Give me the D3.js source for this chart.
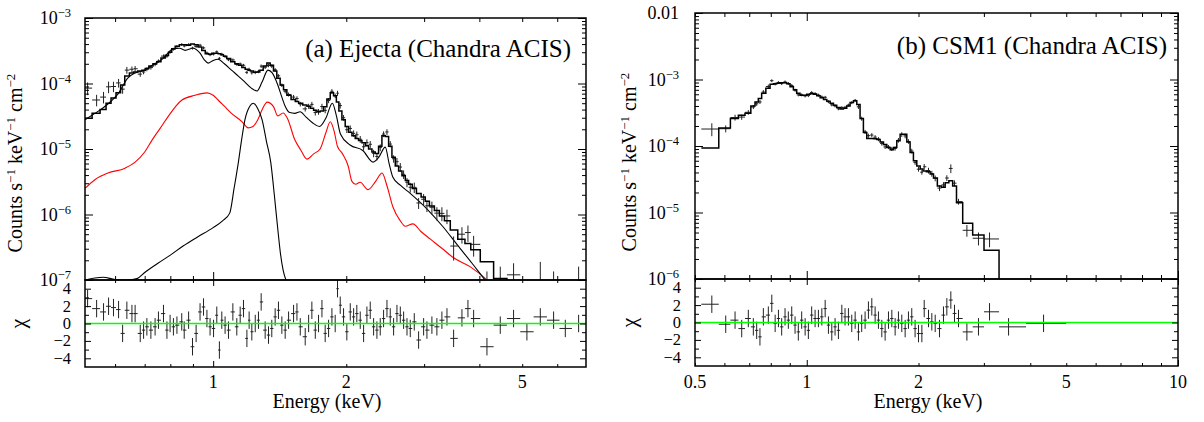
<!DOCTYPE html>
<html><head><meta charset="utf-8">
<script src="https://cdn.jsdelivr.net/npm/d3@7"></script>
<style>
body{margin:0;background:#fff}
svg{display:block}
svg text, svg tspan{font-family:'Liberation Serif','DejaVu Serif','Times New Roman',serif}
</style>
</head><body>
<svg id="c" width="1204" height="422" font-family="Liberation Serif, DejaVu Serif, serif"></svg>
<script>
// ---------------- Panel (a): Ejecta ----------------
const aEnergy = [0.520,0.545,0.565,0.580,0.595,0.611,0.624,0.638,0.655,0.666,
0.684,0.696,0.708,0.723,0.739,0.752,0.772,0.786,0.799,0.813,
0.828,0.849,0.860,0.880,0.898,0.915,0.934,0.951,0.968,0.984,
1.002,1.019,1.033,1.046,1.064,1.083,1.108,1.131,1.151,1.171,
1.192,1.206,1.223,1.245,1.266,1.284,1.311,1.334,1.357,1.381,
1.405,1.430,1.455,1.481,1.520,1.547,1.574,1.615,1.644,1.672,
1.702,1.731,1.762,1.792,1.824,1.856,1.888,1.911,1.938,1.972,
2.006,2.042,2.078,2.113,2.151,2.189,2.227,2.266,2.306,2.346,
2.387,2.429,2.472,2.515,2.559,2.604,2.650,2.696,2.744,2.791,
2.850,2.915,2.992,3.044,3.124,3.206,3.291,3.379,3.498,3.653,
3.769,3.882,4.161,4.460,4.780,5.124,5.494,5.888,6.258,6.707];
const aEdgeLo = 0.513, aEdgeHi = 6.97;
const aModel = [2.95e-5,3.5e-5,4.0e-5,5.0e-5,6.0e-5,7.2e-5,9.5e-5,1.3e-4,1.45e-4,1.5e-4,
1.55e-4,1.6e-4,1.7e-4,1.85e-4,2.0e-4,2.15e-4,2.45e-4,2.7e-4,3.0e-4,3.4e-4,
3.7e-4,3.9e-4,3.9e-4,3.85e-4,4.0e-4,3.9e-4,3.6e-4,3.2e-4,2.85e-4,2.8e-4,
2.9e-4,2.9e-4,2.85e-4,2.75e-4,2.6e-4,2.4e-4,2.15e-4,2.0e-4,1.9e-4,1.75e-4,
1.65e-4,1.6e-4,1.55e-4,1.48e-4,1.5e-4,1.6e-4,1.85e-4,2.05e-4,1.9e-4,1.55e-4,
1.2e-4,9.5e-5,8.0e-5,6.6e-5,5.7e-5,5.3e-5,5.0e-5,4.7e-5,4.5e-5,4.2e-5,
3.9e-5,3.7e-5,3.8e-5,4.4e-5,5.8e-5,7.2e-5,6.5e-5,5.2e-5,3.8e-5,2.8e-5,
2.2e-5,1.8e-5,1.6e-5,1.45e-5,1.35e-5,1.25e-5,1.12e-5,1.0e-5,9.0e-6,8.5e-6,
1.1e-5,1.6e-5,1.55e-5,1.1e-5,7.5e-6,5.5e-6,4.6e-6,3.9e-6,3.3e-6,2.9e-6,
2.5e-6,2.1e-6,1.85e-6,1.6e-6,1.35e-6,1.15e-6,9.5e-7,8.0e-7,5.8e-7,4.2e-7,
3.6e-7,2.9e-7,1.9e-7,1.05e-7,6e-8,4e-8,3e-8,2e-8,1.5e-8,1e-8];
const aData = [8.5e-5,5.6e-5,6.2e-5,8.9e-5,9.0e-5,1.02e-4,8.2e-5,1.6e-4,1.65e-4,1.68e-4,
1.39e-4,1.5e-4,1.65e-4,1.75e-4,1.95e-4,2.2e-4,2.62e-4,2.6e-4,3.0e-4,3.34e-4,
3.66e-4,3.94e-4,3.75e-4,3.92e-4,3.47e-4,3.68e-4,3.84e-4,3.5e-4,2.93e-4,2.75e-4,
2.82e-4,3.04e-4,2.42e-4,2.8e-4,2.58e-4,2.31e-4,2.29e-4,1.96e-4,1.99e-4,1.9e-4,
1.48e-4,1.64e-4,1.46e-4,1.48e-4,1.53e-4,1.84e-4,1.77e-4,1.89e-4,1.84e-4,1.62e-4,
1.31e-4,9.4e-5,7.6e-5,6.8e-5,6.2e-5,5.9e-5,4.85e-5,4.1e-5,4.5e-5,4.8e-5,
3.6e-5,3.7e-5,4.45e-5,3.9e-5,5.5e-5,7.6e-5,6.5e-5,7.1e-5,4.6e-5,3.0e-5,
1.97e-5,2.06e-5,1.73e-5,1.65e-5,1.41e-5,1.08e-5,1.25e-5,1.18e-5,8.6e-6,7.7e-6,
1.05e-5,1.69e-5,1.82e-5,1.19e-5,7.1e-6,6.4e-6,5.3e-6,4.1e-6,3.1e-6,2.6e-6,
2.6e-6,1.5e-6,1.71e-6,1.36e-6,1.29e-6,1.05e-6,1.04e-6,9.5e-7,3.3e-7,5.0e-7,
5.3e-7,3.5e-7,3e-8,5e-8,1.2e-7,2e-8,3e-8,3e-8,1e-8,2e-8];
const aRelErr = [.22,.2,.2,.2,.18,.15,.15,.12,.1,.1,
.09,.08,.07,.07,.06,.06,.06,.05,.05,.05,
.05,.05,.05,.05,.05,.05,.05,.05,.05,.05,
.05,.05,.05,.05,.05,.05,.05,.05,.05,.05,
.06,.06,.06,.06,.06,.06,.06,.06,.06,.06,
.06,.06,.07,.07,.08,.08,.08,.09,.09,.09,
.1,.1,.1,.1,.09,.08,.08,.09,.1,.1,
.11,.11,.11,.12,.12,.12,.12,.12,.13,.13,
.12,.1,.1,.11,.13,.14,.15,.15,.16,.17,
.18,.19,.2,.2,.22,.23,.24,.25,.4,.28,
.28,.35,3.5,2.2,.5,3,5.3,3.5,5,7];
const aChi = [2.86,1.71,1.33,1.98,1.83,1.6,-1.14,1.52,1.14,1.14,
-1.14,-0.76,-0.38,-0.76,-0.38,0.38,1.14,-0.76,0,-0.38,
-0.19,0.19,-0.76,0.38,-2.67,-1.14,1.33,1.9,0.57,-0.38,
-0.57,0.95,-3.05,0.38,-0.19,-0.76,1.33,-0.38,0.95,1.71,
-1.71,0.38,-0.95,0,0.38,2.48,-0.76,-1.33,-0.57,0.76,
1.52,-0.19,-0.76,0.38,1.14,1.33,-0.38,-1.52,0,1.52,
-0.76,0,1.71,-1.14,-0.57,0.76,0,4.0,2.1,0.76,
-0.95,1.33,0.76,1.14,0.38,-1.14,0.95,1.52,-0.38,-0.76,
-0.38,0.57,1.71,0.76,-0.38,1.14,0.95,0.38,-0.38,-0.57,
0.19,-1.9,-0.38,-0.76,-0.19,-0.38,0.38,0.76,-1.71,0.65,
1.71,0.57,-2.67,-0.19,0.57,-0.95,0.76,0.38,-0.57,0];

// model components of panel (a)
const aCompBlackE = [0.513,0.54,0.565,0.59,0.61,0.64,0.666,0.70,0.728,0.77,0.812,0.84,0.864,0.90,0.934,0.955,0.974,1.0,1.026,1.06,1.10,1.14,1.18,1.22,1.257,1.29,1.33,1.36,1.40,1.43,1.455,1.49,1.53,1.573,1.62,1.68,1.74,1.80,1.86,1.90,1.94,2.04,2.18,2.30,2.37,2.45,2.50,2.55,2.65,2.79,3.05,3.31,3.57,3.85,4.12,4.3];
const aCompBlackV = [2.8e-5,3.5e-5,4.3e-5,5.5e-5,7.0e-5,1.2e-4,1.45e-4,1.6e-4,1.9e-4,2.4e-4,3.4e-4,3.45e-4,3.2e-4,3.45e-4,2.9e-4,2.3e-4,2.05e-4,2.25e-4,2.35e-4,2.0e-4,1.6e-4,1.3e-4,1.05e-4,8.5e-5,7.7e-5,1.05e-4,1.6e-4,1.45e-4,9.5e-5,6.2e-5,4.5e-5,3.6e-5,3.5e-5,3.7e-5,3.1e-5,2.5e-5,2.2e-5,3.0e-5,5.0e-5,3.2e-5,1.7e-5,1.15e-5,9.5e-6,6.3e-6,7.5e-6,1.07e-5,6e-6,3.7e-6,2.8e-6,2.1e-6,1.2e-6,6.5e-7,3.4e-7,1.8e-7,1e-7,7e-8];
const aCompRedE = [0.513,0.54,0.578,0.632,0.666,0.70,0.728,0.76,0.79,0.85,0.91,0.969,1.0,1.026,1.06,1.10,1.163,1.2,1.23,1.26,1.295,1.325,1.37,1.40,1.44,1.47,1.53,1.58,1.63,1.69,1.745,1.80,1.84,1.88,1.91,1.96,2.02,2.06,2.10,2.15,2.24,2.33,2.41,2.47,2.55,2.65,2.72,2.83,2.95,3.10,3.30,3.49,3.81,4.16,4.3];
const aCompRedV = [2.5e-6,3.4e-6,4.3e-6,5.1e-6,6.3e-6,9e-6,1.38e-5,2.1e-5,3.1e-5,5.6e-5,6.6e-5,7.2e-5,6.6e-5,5.6e-5,4.5e-5,3.5e-5,2.6e-5,2.1e-5,2.2e-5,2.75e-5,4.2e-5,5.2e-5,4.4e-5,3.2e-5,3.55e-5,3.0e-5,1.38e-5,9.5e-6,7.0e-6,8.5e-6,1.0e-5,1.8e-5,2.6e-5,1.8e-5,1.1e-5,8.5e-6,5.5e-6,3.2e-6,2.9e-6,3.1e-6,2.4e-6,3.2e-6,4.3e-6,2.8e-6,1.3e-6,8e-7,6.6e-7,7.2e-7,5.5e-7,4.2e-7,3e-7,2.2e-7,1.6e-7,1e-7,8e-8];
const aCompLineE = [0.513,0.54,0.564,0.60,0.64,0.673,0.70,0.75,0.80,0.855,0.92,1.0,1.05,1.09,1.115,1.14,1.16,1.18,1.21,1.232,1.26,1.29,1.32,1.35,1.375,1.40,1.42,1.44,1.47];
const aCompLineV = [1.0e-7,1.07e-7,1.1e-7,1.02e-7,1.0e-7,1.05e-7,1.3e-7,1.8e-7,2.4e-7,3.3e-7,4.5e-7,6.3e-7,8e-7,1.05e-6,2.5e-6,6.2e-6,1.4e-5,2.8e-5,4.5e-5,5e-5,4.2e-5,2.8e-5,1.3e-5,6.2e-6,2e-6,6e-7,2.5e-7,1.4e-7,9e-8];

// ---------------- Panel (b): CSM1 ----------------
const bEnergy = [0.555,0.605,0.641,0.668,0.696,0.718,0.733,0.748,0.764,0.788,
0.805,0.822,0.839,0.856,0.874,0.892,0.911,0.930,0.949,0.969,
0.990,1.010,1.031,1.053,1.075,1.098,1.121,1.144,1.168,1.192,
1.217,1.243,1.268,1.295,1.322,1.350,1.378,1.406,1.436,1.466,
1.497,1.528,1.560,1.593,1.626,1.660,1.695,1.730,1.766,1.803,
1.841,1.879,1.918,1.958,2.000,2.042,2.072,2.128,2.172,2.218,
2.278,2.335,2.384,2.444,2.500,2.563,2.700,2.901,3.107,3.496,4.344];
const bEdgeLo = 0.52, bEdgeHi = 5.0;
const bModel = [9.3e-5,1.86e-4,2.6e-4,2.9e-4,3.1e-4,4.0e-4,4.6e-4,5.2e-4,6.2e-4,7.4e-4,
8.5e-4,8.6e-4,8.8e-4,8.9e-4,8.9e-4,8.6e-4,7.8e-4,7.0e-4,6.2e-4,5.8e-4,
5.8e-4,6.0e-4,6.1e-4,6.0e-4,5.7e-4,5.3e-4,5.0e-4,4.7e-4,4.4e-4,4.1e-4,
3.8e-4,3.6e-4,3.7e-4,4.0e-4,4.5e-4,4.8e-4,4.2e-4,2.6e-4,1.6e-4,1.3e-4,
1.3e-4,1.28e-4,1.25e-4,1.15e-4,1.05e-4,9.5e-5,8.8e-5,9.5e-5,1.2e-4,1.5e-4,
1.5e-4,1.15e-4,8e-5,6e-5,5e-5,4.5e-5,4.2e-5,4.1e-5,3.8e-5,3.3e-5,
2.5e-5,2.4e-5,2.8e-5,3.0e-5,2.5e-5,1.4e-5,6.9e-6,4.6e-6,2.7e-6,0,0];
const bData = [1.8e-4,1.82e-4,2.68e-4,2.72e-4,3.21e-4,3.86e-4,4.31e-4,4.6e-4,6.48e-4,7.84e-4,
9.6e-4,8.56e-4,9.0e-4,8.68e-4,9.19e-4,8.72e-4,8.13e-4,6.9e-4,5.87e-4,5.88e-4,
5.66e-4,5.73e-4,6.36e-4,6.14e-4,5.83e-4,5.47e-4,5.4e-4,4.63e-4,4.16e-4,4.0e-4,
3.63e-4,3.79e-4,3.82e-4,4.13e-4,4.48e-4,4.86e-4,3.88e-4,2.58e-4,1.63e-4,1.43e-4,
1.46e-4,1.36e-4,1.27e-4,1.09e-4,9.7e-5,9.67e-5,9.07e-5,9.17e-5,1.22e-4,1.49e-4,
1.42e-4,1.17e-4,8.4e-5,5.66e-5,4.48e-5,4.03e-5,4.87e-5,4.28e-5,3.84e-5,3.27e-5,
2.33e-5,2.6e-5,3.3e-5,4.6e-5,2.76e-5,1.46e-5,5.4e-6,4.1e-6,4.0e-6,0,0];
const bRelErr = [.22,.12,.1,.09,.08,.07,.07,.07,.07,.07,
.05,.05,.05,.05,.05,.05,.05,.05,.05,.05,
.05,.05,.05,.05,.05,.05,.05,.05,.05,.05,
.05,.05,.05,.05,.05,.05,.07,.07,.07,.07,
.07,.07,.07,.07,.07,.07,.07,.07,.08,.08,
.08,.08,.08,.08,.08,.08,.1,.1,.1,.1,
.1,.1,.1,.15,.1,.1,.2,.22,.25,0,0];
const bChi = [2.1,-0.2,0.27,-0.7,0.46,-0.5,-0.9,-1.65,0.65,0.85,
2.2,-0.1,0.46,-0.5,0.65,0.27,0.85,-0.3,-1.08,0.27,
-0.5,-0.9,0.85,0.46,0.46,0.65,1.6,-0.3,-1.08,-0.5,
-0.9,1.04,0.65,0.65,-0.1,0.27,-1.08,-0.1,0.27,1.42,
1.8,0.85,0.27,-0.7,-1.08,0.27,0.46,-0.5,0.27,-0.1,
-0.7,0.27,0.65,-0.7,-1.27,-1.27,1.6,0.46,0.08,-0.1,
-0.7,0.85,1.8,2.58,1.04,0.46,-1.08,-0.5,1.23,-0.5,-0.1];

// ---------------- tick labels ----------------
const aYTickExp = [-7,-6,-5,-4,-3];
const bYTickExp = [-6,-5,-4,-3];
const bYTopLabel = "0.01";
const aXTickLabels = [1,2,5];
const bXTickLabels = [0.5,1,2,5,10];
const chiTickLabels = [-4,-2,0,2,4];
const aTitle = "(a) Ejecta (Chandra ACIS)";
const bTitle = "(b) CSM1 (Chandra ACIS)";

// ---------------- drawing ----------------
const FONT = "Liberation Serif, DejaVu Serif, serif";
const svg = d3.select('#c');
const defs = svg.append('defs');

function edgesOf(E, lo, hi){
  const e=[lo];
  for(let i=1;i<E.length;i++) e.push(Math.sqrt(E[i-1]*E[i]));
  e.push(hi); return e;
}
function logTicks(dom){
  const maj=[],min=[];
  const a=Math.floor(Math.log10(dom[0])), b=Math.ceil(Math.log10(dom[1]));
  for(let p=a;p<=b;p++){
    for(let k=1;k<10;k++){
      const v=k*Math.pow(10,p);
      if(v<dom[0]*0.999||v>dom[1]*1.001) continue;
      (k===1?maj:min).push(v);
    }
  }
  return {maj,min};
}
function txt(g){ return g.append('text').attr('font-family',FONT).attr('fill','#000'); }
function supText(g, x, y, base, sup, anchor, size, supSize){
  const t=txt(g).attr('x',x).attr('y',y).attr('text-anchor',anchor).attr('font-size',size);
  t.append('tspan').text(base);
  if(sup!==null) t.append('tspan').attr('dy',-7).attr('font-size',supSize).text(sup);
  return t;
}

function panel(o){
  const x = d3.scaleLog().domain(o.xDom).range([o.x0,o.x1]);
  const y = d3.scaleLog().domain(o.yDom).range([o.yB,o.yT]);
  const yr = d3.scaleLinear().domain([-5,5]).range([o.rB,o.yB]);
  defs.append('clipPath').attr('id',o.id+'t').append('rect')
    .attr('x',o.x0).attr('y',o.yT).attr('width',o.x1-o.x0).attr('height',o.yB-o.yT);
  defs.append('clipPath').attr('id',o.id+'r').append('rect')
    .attr('x',o.x0).attr('y',o.yB).attr('width',o.x1-o.x0).attr('height',o.rB-o.yB);
  const gT = svg.append('g').attr('clip-path',`url(#${o.id}t)`);
  const gR = svg.append('g').attr('clip-path',`url(#${o.id}r)`);
  const yc = v => v>0 ? y(v) : o.yB+60;
  const ed = edgesOf(o.E, o.lo, o.hi);

  (o.comps||[]).forEach(c=>{
    gT.append('path')
      .datum(c.E.map((e,i)=>[e,c.V[i]]))
      .attr('d', d3.line().x(d=>x(d[0])).y(d=>yc(d[1])).curve(d3.curveMonotoneX))
      .attr('fill','none').attr('stroke',c.color).attr('stroke-width',1.1);
  });
  o.D.forEach((d,i)=>{
    if(!(d>0)) return;
    const xm=x(o.E[i]), yv=y(d);
    const lo=d*(1-o.F[i]), hi=d*(1+o.F[i]);
    gT.append('line').attr('x1',x(ed[i])).attr('x2',x(ed[i+1])).attr('y1',yv).attr('y2',yv)
      .attr('stroke','#222').attr('stroke-width',1);
    gT.append('line').attr('x1',xm).attr('x2',xm).attr('y1',yc(lo)).attr('y2',y(hi))
      .attr('stroke','#222').attr('stroke-width',1);
  });
  const pts=[];
  for(let i=0;i<o.nModel;i++){ pts.push([ed[i],o.M[i]],[ed[i+1],o.M[i]]); }
  gT.append('path').attr('d', d3.line().x(d=>x(d[0])).y(d=>yc(d[1]))(pts))
    .attr('fill','none').attr('stroke','#000').attr('stroke-width',1.5);

  o.R.forEach((r,i)=>{
    const xm=x(o.E[i]);
    gR.append('line').attr('x1',x(ed[i])).attr('x2',x(ed[i+1])).attr('y1',yr(r)).attr('y2',yr(r))
      .attr('stroke','#222').attr('stroke-width',1);
    gR.append('line').attr('x1',xm).attr('x2',xm).attr('y1',yr(r-1)).attr('y2',yr(r+1))
      .attr('stroke','#222').attr('stroke-width',1);
  });
  gR.append('line').attr('x1',o.x0).attr('x2',o.x1).attr('y1',yr(0)).attr('y2',yr(0))
    .attr('stroke','#00ff00').attr('stroke-width',1.6);

  const xt=logTicks(o.xDom), yt=logTicks(o.yDom);
  const ax=(axisFn, scale, vals, size, tx, ty)=>{
    const g=svg.append('g').attr('transform',`translate(${tx},${ty})`)
      .call(axisFn(scale).tickValues(vals).tickSize(size).tickFormat(()=> ''));
    g.select('.domain').remove();
    g.selectAll('line').attr('stroke','#000').attr('stroke-width',1);
  };
  [[xt.maj,8],[xt.min,4]].forEach(([v,s])=>{
    ax(d3.axisBottom,x,v,s,0,o.yT);
    ax(d3.axisTop,x,v,s,0,o.yB);
    ax(d3.axisBottom,x,v,s*0.75,0,o.yB);
    ax(d3.axisTop,x,v,s*0.75,0,o.rB);
  });
  [[yt.maj,8],[yt.min,4]].forEach(([v,s])=>{
    ax(d3.axisRight,y,v,s,o.x0,0);
    ax(d3.axisLeft,y,v,s,o.x1,0);
  });
  const cMaj=[-4,-2,0,2,4], cMin=[-3,-1,1,3];
  [[cMaj,6],[cMin,4]].forEach(([v,s])=>{
    ax(d3.axisRight,yr,v,s,o.x0,0);
    ax(d3.axisLeft,yr,v,s,o.x1,0);
  });

  svg.append('rect').attr('x',o.x0).attr('y',o.yT).attr('width',o.x1-o.x0).attr('height',o.yB-o.yT)
    .attr('fill','none').attr('stroke','#000').attr('stroke-width',1.5);
  svg.append('rect').attr('x',o.x0).attr('y',o.yB).attr('width',o.x1-o.x0).attr('height',o.rB-o.yB)
    .attr('fill','none').attr('stroke','#000').attr('stroke-width',1.5);

  const lab=svg.append('g');
  o.yLabels.forEach(L=>{
    supText(lab, o.x0-o.yLabGap, y(L.v)+6, L.base, L.sup, 'end', 18, 12.5);
  });
  chiTickLabels.forEach(v=>{
    txt(lab).attr('x',o.x0-o.cLabGap).attr('y',yr(v)+5.5).attr('text-anchor','end')
      .attr('font-size',16.5).text(v<0?'\u2212'+Math.abs(v):String(v));
  });
  o.xLabels.forEach(v=>{
    txt(lab).attr('x',x(v)).attr('y',388).attr('text-anchor','middle')
      .attr('font-size',18).text(String(v));
  });
  txt(lab).attr('x',o.xTitleX).attr('y',408).attr('text-anchor','middle')
    .attr('font-size',20).text('Energy (keV)');
  const yl=txt(lab).attr('transform',`translate(${o.yTitleX},${o.yTitleY}) rotate(-90)`)
    .attr('text-anchor','middle').attr('font-size',20);
  yl.append('tspan').text('Counts s');
  yl.append('tspan').attr('dy',-7).attr('font-size',13).text('\u22121');
  yl.append('tspan').attr('dy',7).text(' keV');
  yl.append('tspan').attr('dy',-7).attr('font-size',13).text('\u22121');
  yl.append('tspan').attr('dy',7).text(' cm');
  yl.append('tspan').attr('dy',-7).attr('font-size',13).text('\u22122');
  txt(lab).attr('transform',`translate(${o.chiX},${yr(0)}) rotate(-90)`)
    .attr('text-anchor','middle').attr('font-size',22).text('\u03c7');
  txt(lab).attr('x',o.titleX).attr('y',o.titleY).attr('text-anchor','end')
    .attr('font-size',25).text(o.title);
}

panel({
  id:'a', x0:85, x1:586, yT:18, yB:280, rB:367,
  xDom:[aEdgeLo,aEdgeHi], yDom:[1e-7,1e-3],
  E:aEnergy, lo:aEdgeLo, hi:aEdgeHi, M:aModel, D:aData, F:aRelErr, R:aChi, nModel:aEnergy.length,
  comps:[{E:aCompRedE,V:aCompRedV,color:'#ff0000'},
         {E:aCompLineE,V:aCompLineV,color:'#000'},
         {E:aCompBlackE,V:aCompBlackV,color:'#000'}],
  yLabels:aYTickExp.map(p=>({v:Math.pow(10,p),base:'10',sup:'\u2212'+Math.abs(p)})),
  yLabGap:14, cLabGap:14,
  xLabels:aXTickLabels, xTitleX:327, yTitleX:22, yTitleY:163, chiX:25,
  title:aTitle, titleX:571, titleY:57
});
panel({
  id:'b', x0:695, x1:1178, yT:13, yB:279, rB:366,
  xDom:[0.5,10], yDom:[1e-6,1e-2],
  E:bEnergy, lo:bEdgeLo, hi:bEdgeHi, M:bModel, D:bData, F:bRelErr, R:bChi, nModel:70,
  comps:[],
  yLabels:[{v:1e-2,base:bYTopLabel,sup:null}].concat(bYTickExp.map(p=>({v:Math.pow(10,p),base:'10',sup:'\u2212'+Math.abs(p)}))),
  yLabGap:16, cLabGap:14,
  xLabels:bXTickLabels, xTitleX:928, yTitleX:636, yTitleY:162, chiX:636,
  title:bTitle, titleX:1167, titleY:54
});
</script>
</body></html>
